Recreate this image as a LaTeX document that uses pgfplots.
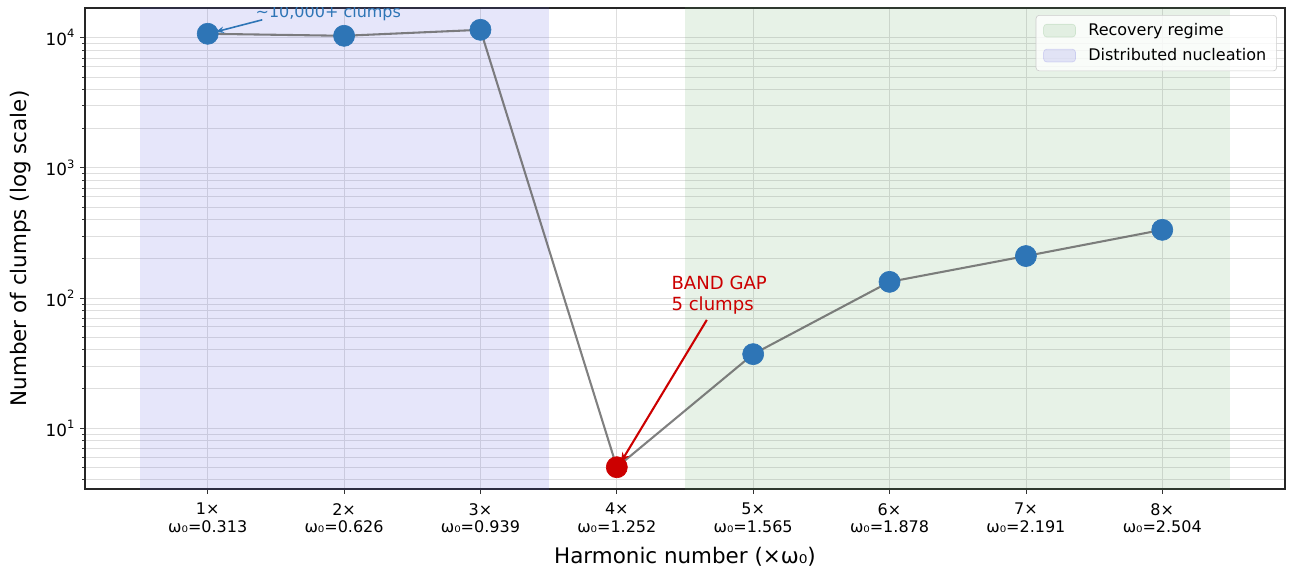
\documentclass[border=0pt]{standalone}
\usepackage{pgfplots}
\pgfplotsset{compat=1.18}
\usepackage{fontspec}
\setmainfont{DejaVu Sans}
\usetikzlibrary{arrows.meta}
\definecolor{mblue}{RGB}{46,117,182}
\definecolor{mred}{RGB}{204,0,0}
\definecolor{gspan}{RGB}{95,168,95}
\definecolor{bspan}{RGB}{88,88,222}
\definecolor{gridc}{RGB}{222,222,222}
\definecolor{linec}{RGB}{100,100,100}
\newcommand{\pw}[1]{10\raisebox{0.85ex}{\fontsize{7.2}{8}\selectfont #1}}
\begin{document}
\begin{tikzpicture}
\path[use as bounding box] (-53.125pt,-50pt) rectangle (752.5pt,305.625pt);
\begin{axis}[
  scale only axis, width=750pt, height=300.625pt,
  xmin=0.1, xmax=8.9, ymode=log, ymin=3.4, ymax=16950,
  xtick={1,2,3,4,5,6,7,8},
  xticklabels={{1×\\ω₀=0.313},{2×\\ω₀=0.626},{3×\\ω₀=0.939},{4×\\ω₀=1.252},{5×\\ω₀=1.565},{6×\\ω₀=1.878},{7×\\ω₀=2.191},{8×\\ω₀=2.504}},
  xticklabel style={align=center, font=\fontsize{10}{11.2}\selectfont, yshift=-2.2pt},
  ytick={10,100,1000,10000},
  yticklabels={\pw{1},\pw{2},\pw{3},\pw{4}},
  yticklabel style={font=\fontsize{10.5}{12}\selectfont},
  minor ytick={4,5,6,7,8,9,20,30,40,50,60,70,80,90,200,300,400,500,600,700,800,900,2000,3000,4000,5000,6000,7000,8000,9000},
  tick align=outside, xtick pos=bottom, ytick pos=left,
  major tick length=3.1pt, minor tick length=1.8pt,
  tick style={black!80, line width=0.5pt},
  xmajorgrids, ymajorgrids, yminorgrids,
  major grid style={gridc, line width=0.5pt},
  minor grid style={gridc, line width=0.5pt},
  axis line style={black!85, line width=0.8pt},
  xlabel={Harmonic number (×ω₀)},
  ylabel={Number of clumps (log scale)},
  label style={font=\fontsize{13.4}{15}\selectfont},
  xlabel style={at={(axis description cs:0.5,-0.11)}, anchor=north},
  ylabel style={at={(axis description cs:-0.040,0.5)}, anchor=south},
  legend style={at={(axis description cs:0.9933,0.9854)}, anchor=north east,
    draw=black!20, rounded corners=2pt, fill=white, fill opacity=0.8, text opacity=1,
    font=\fontsize{10}{12}\selectfont, row sep=2.5pt, inner xsep=4.5pt, inner ysep=3pt},
  legend cell align=left,
]
\addplot[fill=gspan, fill opacity=0.15, draw=none, forget plot] coordinates {(4.5,1) (4.5,100000) (8.5,100000) (8.5,1)} -- cycle;
\addplot[fill=bspan, fill opacity=0.15, draw=none, forget plot] coordinates {(0.5,1) (0.5,100000) (3.5,100000) (3.5,1)} -- cycle;
\addlegendimage{legend image code/.code={\path[draw=none, fill=none] (0pt,-4pt) rectangle (26pt,4pt); \path[fill=gspan, fill opacity=0.15, draw=gspan, draw opacity=0.2] (0pt,-4pt) rectangle (20pt,4pt);}}
\addlegendentry{Recovery regime}
\addlegendimage{legend image code/.code={\path[draw=none, fill=none] (0pt,-4pt) rectangle (26pt,4pt); \path[fill=bspan, fill opacity=0.15, draw=bspan, draw opacity=0.2] (0pt,-4pt) rectangle (20pt,4pt);}}
\addlegendentry{Distributed nucleation}
\addplot[linec, opacity=0.82, line width=1.3pt, no marks, forget plot] coordinates {
(1,10740) (2,10360) (3,11520) (4,5.0) (5,37) (6,133) (7,210) (8,334)};
\addplot[only marks, mark=*, mark size=6.6pt, mblue, mark options={draw=mblue, fill=mblue}, forget plot] coordinates {
(1,10740) (2,10360) (3,11520) (5,37) (6,133) (7,210) (8,334)};
\addplot[only marks, mark=*, mark size=6.6pt, mred, mark options={draw=mred, fill=mred}, forget plot] coordinates {(4,5.0)};
\draw[mblue, line width=1pt, -{Stealth[length=5pt,width=4pt]}] (axis cs:1.40,13750) -- (axis cs:1.06,11120);
\node[mblue, font=\fontsize{10}{12}\selectfont, anchor=west] at (axis cs:1.31,15600) {\textasciitilde10,000+ clumps};
\draw[mred, line width=1.3pt, -{Stealth[length=6pt,width=5pt]}] (axis cs:4.66,67.8) -- (axis cs:4.03,5.47);
\node[mred, font=\fontsize{11.3}{13}\selectfont, align=left, anchor=west] at (axis cs:4.36,105) {BAND GAP\\5 clumps};
\end{axis}
\end{tikzpicture}
\end{document}
